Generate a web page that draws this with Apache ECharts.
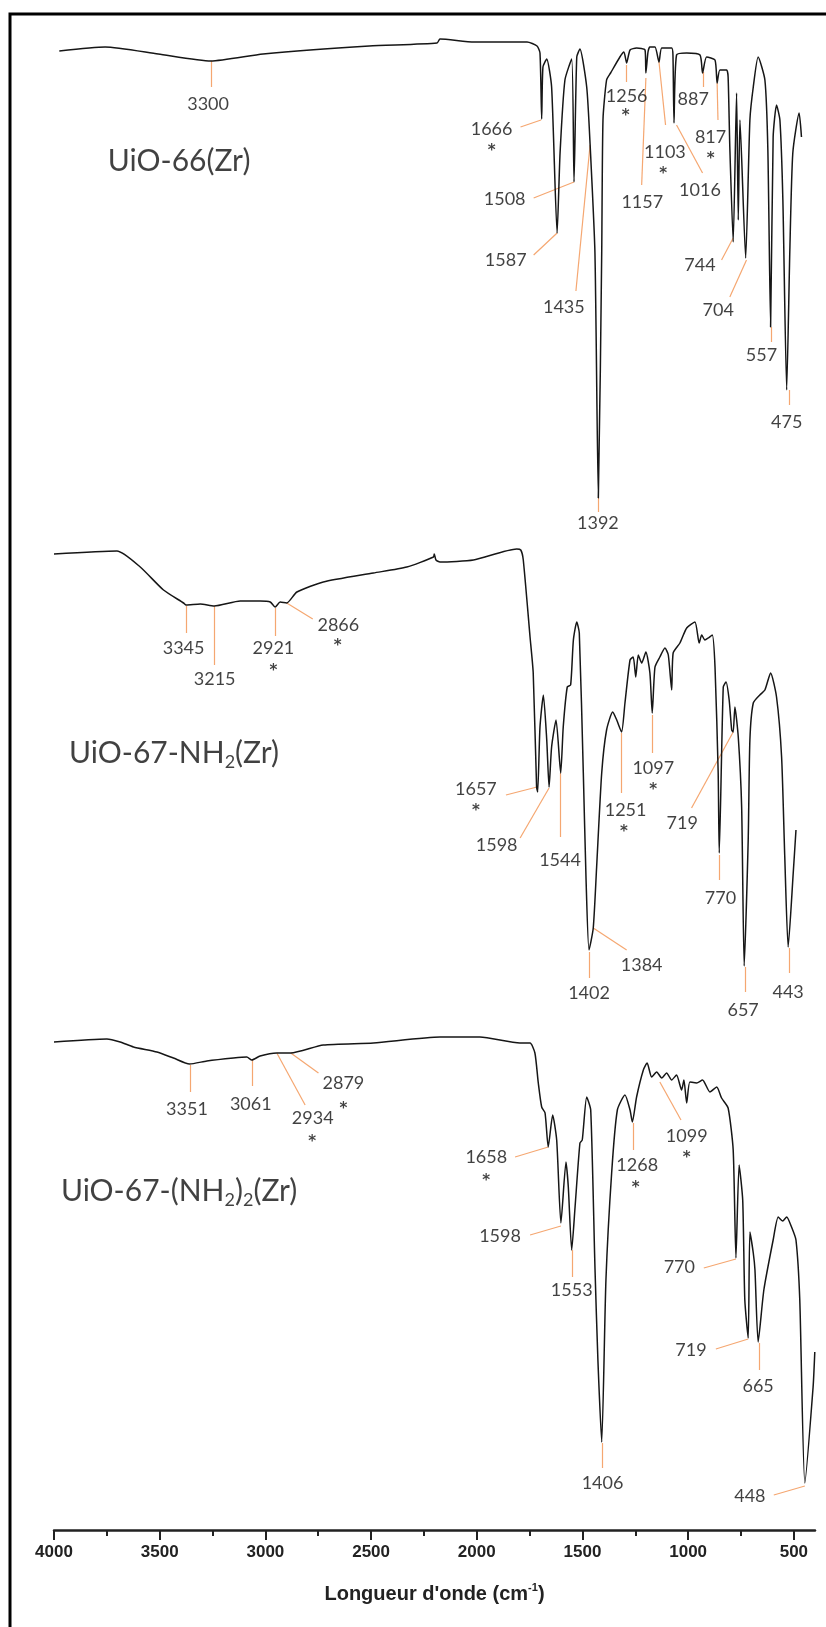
<!DOCTYPE html>
<html><head><meta charset="utf-8">
<script src="https://cdn.jsdelivr.net/npm/echarts@6/dist/echarts.min.js"></script>
<style>html,body{margin:0;padding:0;background:#fff}#c{width:826px;height:1627px}</style>
</head><body><div id="c"></div><script>
// ---- x axis ticks (wavenumber, cm-1)
const xTicks = [4000, 3500, 3000, 2500, 2000, 1500, 1000, 500];
const xMinorTicks = [3750, 3250, 2750, 2250, 1750, 1250, 750];

// ---- UiO-66(Zr) spectrum (wavenumber, transmittance a.u.)
const uio66_wn = [3975,3758,3507,3258,3011,2509,2188,2174,2013,1762,1715,1701,1693,1687,1669,1646,1620,1606,1583,1551,1540,1527,1512,1480,1464,1441,1425,1409,1403,1386,1367,1323,1304,1291,1275,1244,1204,1200,1190,1181,1157,1138,1125,1078,1072,1067,1055,1007,944,932,913,873,863,850,818,811,803,787,771,763,755,728,708,692,669,637,623,610,598,582,566,552,534,519,505,475,464];
const uio66_T = [147.9,148.3,147.6,146.9,147.6,148.4,148.7,149.1,148.8,148.8,148.4,147.7,141.1,146.3,147.1,144.3,129.7,137.7,145,147.1,134.8,147.3,148.1,144.3,138.6,127.7,103.2,127.7,141,145,145.7,147.3,147.8,146.7,148,148.2,148,145.7,147.8,148.3,148.3,146.8,148.2,148.2,147.5,140.7,147.5,147.7,147.5,145.7,147.3,147,144.7,146,146,145.3,138.3,128.8,143.7,131,141,127.2,141,144.3,147.3,145,138,120.3,139.3,142.5,141,133,114,128,137.7,141.7,139.3];

// ---- UiO-67-NH2(Zr)
const uio67_wn = [4000,3702,3592,3482,3387,3375,3308,3242,3119,3025,2977,2954,2930,2899,2851,2726,2489,2331,2205,2201,2193,2174,2016,1811,1792,1780,1748,1733,1717,1712,1701,1685,1669,1658,1646,1625,1603,1591,1572,1556,1543,1527,1515,1496,1483,1469,1449,1433,1409,1386,1357,1338,1315,1299,1275,1260,1248,1236,1220,1200,1181,1170,1157,1134,1110,1094,1078,1071,1039,1007,968,948,936,921,905,886,873,858,853,834,821,806,794,787,779,763,747,735,716,708,692,661,637,610,582,558,543,527,503,490];
const uio67_T = [97.6,97.9,96.3,94,92.7,92.5,92.6,92.4,92.9,92.9,92.8,92.3,92.8,92.7,93.8,94.8,95.7,96.3,97.3,97.6,97,96.8,97,98.1,98,97,89.3,85.7,74.3,73.8,80.3,83.5,79,74.3,78.3,81,75.7,80.3,84.3,84.5,89,90.8,89.7,75.7,65,58,60.2,66.3,75.7,80,81.8,81,79.8,82.7,87,87.3,85.3,87.5,86.7,87.8,85.7,81.7,86.3,87.3,88.2,87.5,84,87.7,88.7,90.2,90.8,88.7,89.5,89,89.2,89.5,86.3,75.7,67.7,84.3,84.8,83,80,79.8,82.3,79.3,72.3,56.4,69,79,82.7,83.5,84,85.7,83.3,77.3,67.3,58.3,65.7,70];

// ---- UiO-67-(NH2)2(Zr)
const uio672_wn = [4000,3750,3687,3624,3513,3435,3359,3277,3151,3088,3064,3025,2946,2880,2726,2489,2174,1985,1796,1748,1725,1709,1693,1677,1662,1641,1622,1602,1578,1567,1551,1535,1512,1501,1480,1461,1441,1427,1409,1389,1362,1335,1299,1275,1264,1244,1212,1194,1173,1149,1125,1102,1078,1055,1031,1020,1007,992,960,932,897,865,842,811,787,774,759,742,732,716,708,692,684,669,642,598,574,553,534,511,490,472,448,409,401];
const uio672_T = [48.8,49.1,48.8,48.3,47.8,47.2,46.6,46.9,47.2,47.3,47,47.4,47.7,47.7,48.5,48.7,49.3,49.3,48.7,48.7,47.7,44.7,42.3,41.7,38.3,41.5,39,30.7,36.8,34.3,28,32.3,38.7,39,43.3,42,26.3,17,8.8,25,35.7,42,43.5,42,40.8,43.3,46,46.7,45.3,45.8,45.2,45.7,45,45.5,44,45,42.7,44.8,44.7,45,43.8,44.3,43.2,42.2,38,27.2,36.5,33,23,19.2,29.8,27.7,26,18.8,24,29,31.3,30.9,31.3,30.3,29,23,4.7,14.3,17.8];

// ---- peak labels (text)
const peaks66 = ['3300','1666','1508','1587','1435','1392','1256','1157','1103','1016','887','817','744','704','557','475'];
const peaks67 = ['3345','3215','2921','2866','1657','1598','1544','1402','1384','1251','1097','719','770','657','443'];
const peaks672 = ['3351','3061','2934','2879','1658','1598','1553','1406','1268','1099','770','719','665','448'];
// ---- label placement in data units: [leader from w,T, leader to w,T, label w,T, (star w,T)]
const place66 = [
 [3258,146.9, 3258,144.3, 3271,142.6],
 [1696,141.0, 1793,140.3, 1930,140.1, 1930,138.3],
 [1540,134.8, 1731,133.2, 1868,133.1],
 [1620,129.7, 1731,127.5, 1863,127.0],
 [1464,138.5, 1531,123.9, 1588,122.3],
 [1424,103.2, 1424,101.8, 1427,100.7],
 [1291,146.5, 1291,144.8, 1291,143.4, 1296,141.8],
 [1200,145.2, 1220,134.5, 1217,132.8],
 [1138,146.8, 1107,140.5, 1110,137.8, 1118,136.0],
 [1055,140.5, 932,135.7, 944,134.0],
 [929,145.8, 929,144.3, 976,143.1],
 [863,144.7, 859,141.0, 894,139.3, 894,137.5],
 [787,129.2, 842,127.0, 944,126.5],
 [724,127.0, 803,123.3, 858,122.0],
 [605,120.3, 605,118.8, 653,117.5],
 [522,114.0, 522,112.5, 534,110.8]
];
const place67 = [
 [3375,92.4, 3375,89.7, 3387,88.2],
 [3242,92.4, 3242,86.5, 3240,85.1],
 [2954,92.2, 2954,89.4, 2962,88.2, 2962,86.3],
 [2899,92.7, 2776,91.1, 2655,90.5, 2658,88.8],
 [1715,74.3, 1862,73.5, 2004,74.1, 2004,72.3],
 [1658,74.2, 1795,69.2, 1906,68.5],
 [1603,75.7, 1603,69.3, 1606,67.0],
 [1469,57.8, 1469,55.2, 1469,53.7],
 [1449,60.2, 1291,58.0, 1220,56.5],
 [1315,79.7, 1315,73.7, 1296,72.0, 1304,70.2],
 [1168,81.5, 1168,77.7, 1165,76.2, 1165,74.4],
 [787,79.8, 984,72.2, 1028,70.7],
 [853,67.5, 853,65.0, 847,63.2],
 [732,56.3, 732,53.8, 740,52.0],
 [522,58.2, 522,55.7, 527,53.8]
];
const place672 = [
 [3356,46.5, 3356,43.8, 3371,42.1],
 [3063,47.0, 3063,44.4, 3069,42.6],
 [2946,47.7, 2812,42.5, 2776,41.2, 2779,39.2],
 [2880,47.7, 2749,45.7, 2631,44.7, 2631,42.5],
 [1662,38.3, 1819,37.3, 1955,37.3, 1955,35.3],
 [1602,30.4, 1748,29.5, 1890,29.4],
 [1546,28.0, 1546,25.3, 1551,24.0],
 [1405,8.7, 1405,6.2, 1405,4.7],
 [1260,40.7, 1260,38.0, 1241,36.5, 1248,34.6],
 [1134,44.8, 1034,41.0, 1007,39.4, 1007,37.6],
 [774,27.1, 926,26.2, 1042,26.3],
 [716,19.1, 869,18.1, 987,18.0],
 [664,18.7, 664,16.0, 669,14.4],
 [448,4.4, 595,3.5, 708,3.4]
];
// ---- sample names and their placement
const sampleNames = ['{a|UiO-66(Zr)}', '{a|UiO-67-NH}{s|2}{a|(Zr)}', '{a|UiO-67-(NH}{s|2}{a|)}{s|2}{a|(Zr)}'];
const samplePlace = [[3408,136.9],[3432,77.7],[3408,33.9]];

const toPts = (w, t) => w.map((x, i) => [x, t[i]]);
const leaderData = [], labelData = [], starData = [];
function addPeaks(texts, place) {
  texts.forEach((t, i) => {
    const p = place[i];
    leaderData.push({ coords: [[p[0], p[1]], [p[2], p[3]]] });
    labelData.push([p[4], p[5], t]);
    if (p.length > 6) starData.push([p[6], p[7], '*']);
  });
}
addPeaks(peaks66, place66);
addPeaks(peaks67, place67);
addPeaks(peaks672, place672);

const lineStyle = { color: '#161616', width: 1.5 };
const mkLine = (w, t) => ({ type: 'line', data: toPts(w, t), symbol: 'none', showSymbol: false, smooth: 0.2, lineStyle, z: 3, animation: false, silent: true });

const chart = echarts.init(document.getElementById('c'), null, { renderer: 'canvas' });
chart.setOption({
  backgroundColor: '#fff',
  animation: false,
  grid: { left: 54, right: 11, top: 20, bottom: 97, containLabel: false },
  xAxis: [{
    type: 'value', min: 400, max: 4000, inverse: true, position: 'bottom',
    axisLine: { show: true, onZero: false, lineStyle: { color: '#222', width: 2.5 } },
    axisTick: { show: true, customValues: xTicks, length: 10, lineStyle: { color: '#222', width: 2 } },
    axisLabel: { show: true, customValues: xTicks, formatter: v => String(v), margin: 14, fontFamily: 'Liberation Sans', fontWeight: 'bold', fontSize: 17, color: '#222' },
    splitLine: { show: false },
    name: "Longueur d'onde (cm{sup|-1})", nameLocation: 'middle', nameGap: 52,
    nameTextStyle: { fontFamily: 'Liberation Sans', fontWeight: 'bold', fontSize: 20, color: '#222', lineHeight: 24,
      rich: { sup: { fontFamily: 'Liberation Sans', fontWeight: 'bold', fontSize: 11, color: '#222', lineHeight: 12, verticalAlign: 'top' } } }
  }, {
    type: 'value', min: 400, max: 4000, inverse: true, position: 'bottom', offset: 0,
    axisLine: { show: false },
    axisTick: { show: true, customValues: xMinorTicks, length: 6, lineStyle: { color: '#222', width: 2 } },
    axisLabel: { show: false }, splitLine: { show: false }
  }],
  yAxis: { type: 'value', min: 0, max: 151, show: false },
  graphic: [{ type: 'rect', shape: { x: 10, y: 14, width: 900, height: 1700 }, style: { fill: 'none', stroke: '#000', lineWidth: 3 }, silent: true, z: 0 }],
  series: [
    mkLine(uio66_wn, uio66_T),
    mkLine(uio67_wn, uio67_T),
    mkLine(uio672_wn, uio672_T),
    { type: 'lines', coordinateSystem: 'cartesian2d', data: leaderData, polyline: false, silent: true, z: 2, animation: false,
      lineStyle: { color: '#F5A771', width: 1.2, opacity: 1, curveness: 0 } },
    { type: 'scatter', data: labelData, symbolSize: 0, silent: true, z: 4, animation: false,
      label: { show: true, position: 'inside', formatter: p => p.data[2], fontFamily: 'Lato', fontSize: 18, color: '#111' } },
    { type: 'scatter', data: starData, symbolSize: 0, silent: true, z: 4, animation: false,
      label: { show: true, position: 'inside', offset: [0, 4], formatter: '*', fontFamily: 'DejaVu Sans', fontWeight: 'bold', fontSize: 15, color: '#111' } },
    { type: 'scatter', data: samplePlace.map((p, i) => [p[0], p[1], sampleNames[i]]), symbolSize: 0, silent: true, z: 4, animation: false,
      label: { show: true, position: 'inside', formatter: p => p.data[2],
        rich: { a: { fontFamily: 'Lato', fontSize: 30, color: '#111', lineHeight: 36 },
                s: { fontFamily: 'Lato', fontSize: 18, color: '#111', lineHeight: 16, verticalAlign: 'bottom' } } } }
  ]
});
</script></body></html>
